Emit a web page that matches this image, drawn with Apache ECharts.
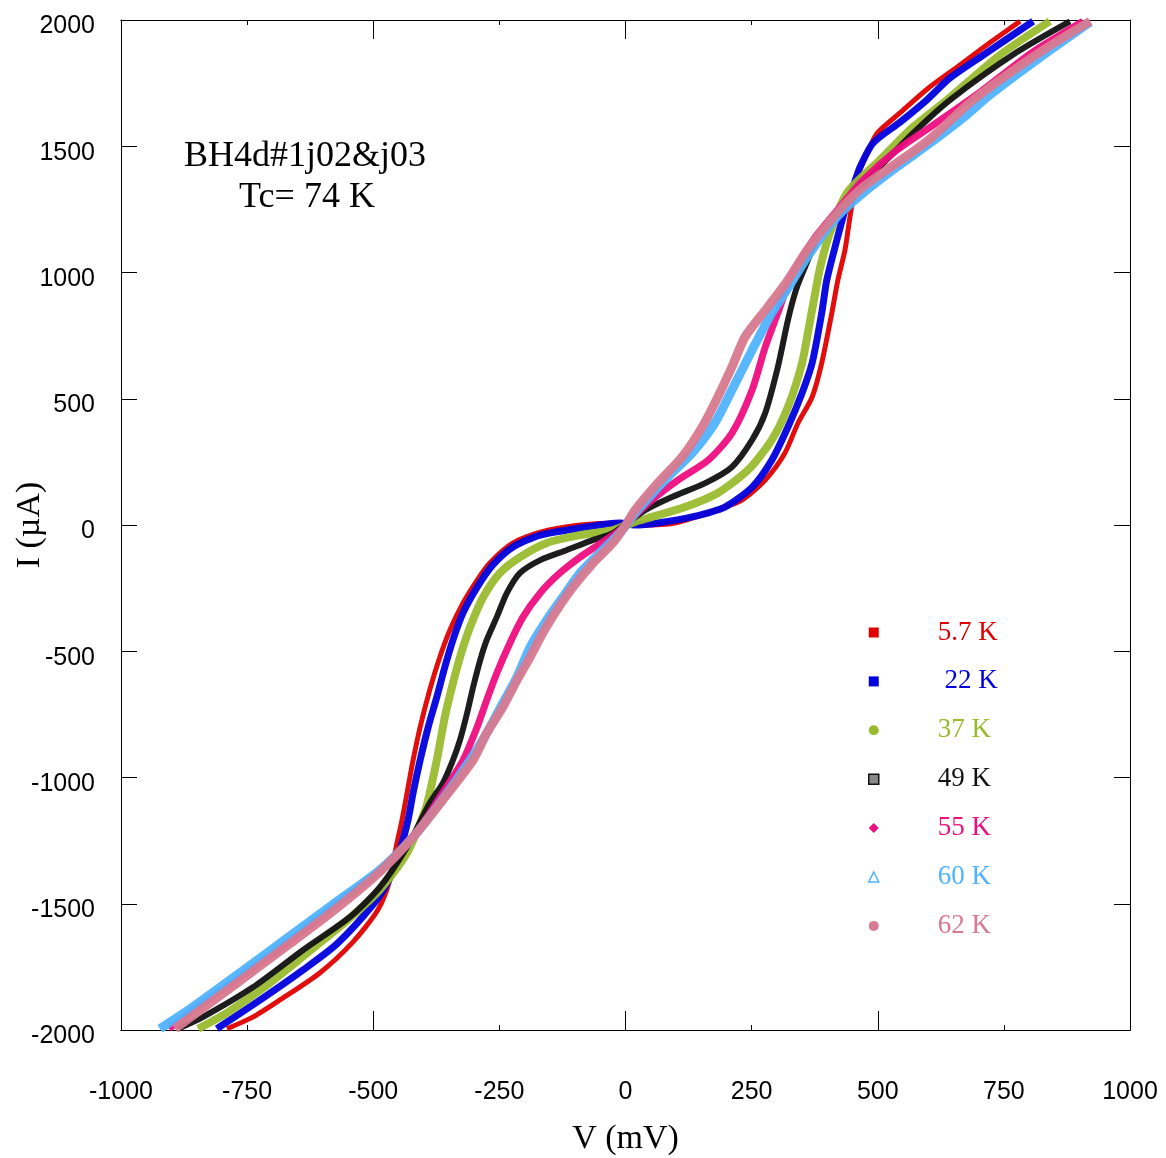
<!DOCTYPE html>
<html>
<head>
<meta charset="utf-8">
<script src="https://cdn.jsdelivr.net/npm/echarts@6/dist/echarts.min.js"></script>
<style>
html,body{margin:0;padding:0;background:#fff;}
#chart{width:1166px;height:1158px;}
</style>
</head>
<body>
<div id="chart"></div>
<script>
// ---- data: [V (mV), I (µA)] ----
const T5_7K = [[-790,-1995],[-738,-1948],[-685,-1881],[-606,-1774],[-540,-1651],[-491,-1525],[-467,-1406],[-455,-1279],[-443,-1168],[-433,-1061],[-421,-931],[-407,-800],[-388,-653],[-368,-523],[-348,-416],[-322,-309],[-294,-218],[-269,-150],[-223,-71],[-169,-28],[-90,0],[-11,8],[33,0],[98,8],[164,48],[231,99],[277,178],[316,285],[342,404],[370,507],[389,642],[409,840],[421,970],[435,1089],[445,1220],[459,1378],[479,1473],[499,1552],[544,1632],[600,1730],[663,1822],[722,1910],[782,1995]];
const T22K = [[-810,-1995],[-724,-1881],[-639,-1762],[-572,-1659],[-501,-1505],[-471,-1414],[-447,-1287],[-431,-1168],[-421,-1061],[-407,-931],[-391,-800],[-374,-681],[-358,-562],[-342,-455],[-322,-348],[-294,-246],[-263,-158],[-223,-87],[-169,-40],[-90,-12],[-11,8],[19,0],[64,8],[132,32],[197,71],[251,150],[290,257],[322,388],[350,523],[370,642],[389,840],[399,970],[419,1129],[435,1247],[451,1339],[465,1418],[491,1513],[544,1595],[597,1683],[643,1770],[709,1861],[808,1995]];
const T37K = [[-847,-1995],[-790,-1932],[-705,-1814],[-606,-1655],[-546,-1556],[-487,-1445],[-433,-1299],[-397,-1129],[-388,-1061],[-374,-931],[-358,-760],[-344,-642],[-328,-523],[-308,-404],[-282,-285],[-249,-190],[-209,-127],[-156,-71],[-90,-40],[-25,-20],[19,12],[53,32],[118,71],[183,127],[243,218],[290,337],[322,467],[350,642],[365,800],[376,919],[386,1022],[405,1156],[439,1315],[504,1445],[570,1576],[637,1683],[742,1861],[841,1995]];
const T49K = [[-887,-1995],[-837,-1948],[-738,-1830],[-639,-1683],[-546,-1552],[-487,-1434],[-433,-1275],[-388,-1101],[-362,-1022],[-342,-931],[-328,-851],[-314,-745],[-302,-642],[-288,-535],[-275,-455],[-255,-364],[-235,-269],[-209,-190],[-169,-139],[-116,-99],[-64,-59],[-25,-32],[39,59],[92,111],[158,166],[211,230],[251,337],[277,444],[302,626],[322,812],[338,931],[356,1022],[386,1156],[439,1287],[504,1418],[570,1552],[643,1683],[776,1873],[881,1995]];
const T55K = [[-905,-1995],[-853,-1915],[-770,-1798],[-671,-1655],[-586,-1522],[-487,-1370],[-453,-1310],[-407,-1196],[-368,-1077],[-322,-931],[-294,-800],[-275,-693],[-255,-586],[-229,-467],[-203,-364],[-169,-269],[-130,-190],[-90,-127],[-51,-75],[-11,-20],[13,25],[53,100],[104,178],[164,257],[211,364],[251,535],[277,705],[302,840],[326,970],[372,1129],[425,1259],[471,1366],[538,1485],[604,1576],[703,1715],[807,1873],[907,1995]];
const T60K = [[-923,-1995],[-869,-1925],[-770,-1782],[-671,-1636],[-582,-1505],[-487,-1366],[-421,-1236],[-368,-1101],[-308,-931],[-275,-824],[-243,-705],[-215,-602],[-189,-483],[-156,-376],[-124,-285],[-90,-190],[-51,-111],[-11,-30],[25,60],[78,178],[132,285],[177,404],[211,535],[251,693],[290,840],[320,931],[360,1061],[419,1220],[471,1315],[538,1418],[604,1513],[677,1625],[722,1703],[828,1861],[921,1992]];
const T62K = [[-893,-1995],[-770,-1814],[-671,-1667],[-582,-1533],[-487,-1374],[-421,-1236],[-362,-1089],[-302,-931],[-275,-824],[-243,-721],[-215,-614],[-189,-523],[-164,-428],[-136,-337],[-104,-246],[-64,-150],[-25,-71],[3,8],[19,59],[64,166],[112,269],[152,388],[183,507],[211,626],[237,745],[282,863],[322,970],[360,1089],[419,1236],[471,1339],[538,1434],[604,1530],[689,1683],[822,1873],[921,1995]];

const seriesNames = ['5.7 K', ' 22 K', '37 K', '49 K', '55 K', '60 K', '62 K'];
const seriesData = [T5_7K, T22K, T37K, T49K, T55K, T60K, T62K];
const colors = ['#e00000', '#0000dd', '#9aba2e', '#111111', '#ee0e80', '#4fb3ff', '#d8798f'];
const widths = [5, 7, 8, 6, 7, 9, 9];
const icons = ['rect', 'rect', 'circle', 'rect', 'diamond', 'triangle', 'circle'];

const xTicks = {min: -1000, max: 1000, interval: 250, major: 500};
const yTicks = {min: -2000, max: 2000, interval: 500};

const chart = echarts.init(document.getElementById('chart'), null, {renderer: 'canvas'});

function frameAxis(pos, range, interval, len, labels) {
  return {
    type: 'value', position: pos, min: range.min, max: range.max, interval: interval,
    axisLine: {show: true, onZero: false, lineStyle: {color: '#000', width: 1}},
    axisTick: {show: true, inside: true, length: len, lineStyle: {color: '#000', width: 1}},
    splitLine: {show: false},
    axisLabel: labels || {show: false}
  };
}

const xLabel = {show: true, margin: 50, fontFamily: 'Liberation Sans', fontSize: 25, color: '#000', formatter: v => String(v)};
const yLabel = {show: true, margin: 26, fontFamily: 'Liberation Sans', fontSize: 25, color: '#000', verticalAlign: 'top', lineHeight: 13, formatter: v => String(v)};

const xMain = Object.assign(frameAxis('bottom', xTicks, xTicks.interval, 5, xLabel), {
  name: 'V (mV)', nameLocation: 'middle', nameGap: 92, nameMoveOverlap: false,
  nameTextStyle: {fontFamily: 'Liberation Serif', fontSize: 34, color: '#000'}
});
const yMain = Object.assign(frameAxis('left', yTicks, yTicks.interval, 16, yLabel), {
  name: 'I (µA)', nameLocation: 'middle', nameGap: 74, nameRotate: 90, nameMoveOverlap: false,
  nameTextStyle: {fontFamily: 'Liberation Serif', fontSize: 34, color: '#000'}
});

const option = {
  backgroundColor: '#fff',
  animation: false,
  grid: {left: 121, right: 36, top: 20, bottom: 128, containLabel: false, outerBoundsMode: 'none'},
  xAxis: [
    xMain,
    frameAxis('top', xTicks, xTicks.interval, 5),
    frameAxis('bottom', xTicks, xTicks.major, 19),
    frameAxis('top', xTicks, xTicks.major, 19)
  ],
  yAxis: [
    yMain,
    frameAxis('right', yTicks, yTicks.interval, 16)
  ],
  legend: {
    orient: 'vertical', left: 863, top: 614, padding: 5,
    itemWidth: 10, itemHeight: 10, itemGap: 21.9,
    textStyle: {fontFamily: 'Liberation Serif', fontSize: 27, lineHeight: 26, padding: [0, 0, 0, 54]},
    data: seriesNames.map((n, k) => ({
      name: n,
      icon: icons[k],
      itemStyle: k === 5
        ? {color: '#fff', borderColor: colors[k], borderWidth: 1.5}
        : (k === 3 ? {color: '#888', borderColor: colors[k], borderWidth: 1.5} : {color: colors[k]}),
      textStyle: {color: colors[k]}
    }))
  },
  graphic: [
    {type: 'text', x: 305, y: 157, style: {text: 'BH4d#1j02&j03', font: '36px "Liberation Serif"', fill: '#000', align: 'center', verticalAlign: 'middle'}},
    {type: 'text', x: 307, y: 198, style: {text: 'Tc= 74 K', font: '36px "Liberation Serif"', fill: '#000', align: 'center', verticalAlign: 'middle'}}
  ],
  series: seriesData.map((d, k) => ({
    name: seriesNames[k],
    type: 'line',
    xAxisIndex: 0, yAxisIndex: 0,
    data: d,
    smooth: 0.25,
    showSymbol: false,
    symbol: icons[k],
    lineStyle: {color: colors[k], width: widths[k], opacity: 0.95},
    itemStyle: {color: colors[k]},
    clip: true,
    z: 2 + k
  }))
};

chart.setOption(option);
</script>
</body>
</html>
